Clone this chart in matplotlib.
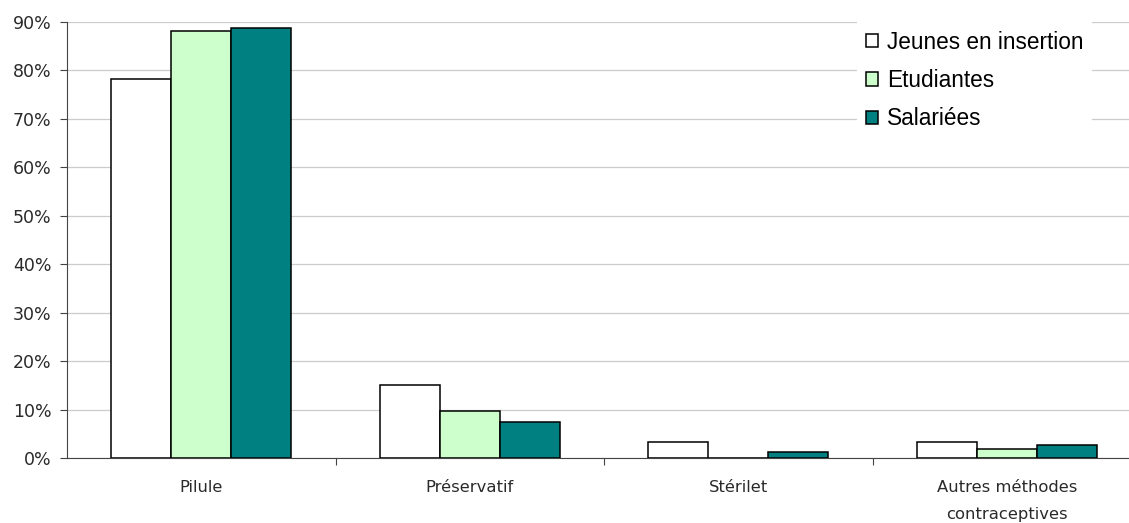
import matplotlib
matplotlib.use("Agg")
import matplotlib.pyplot as plt
import matplotlib.ticker as ticker
import numpy as np

categories = ["Pilule", "Préservatif", "Stérilet", "Autres méthodes\ncontraceptives"]
series_names = ["Jeunes en insertion", "Etudiantes", "Salariées"]
jeunes = [78.2, 15.0, 3.2, 3.4]
etudiantes = [88.2, 9.7, 0.0, 1.9]
salariees = [88.8, 7.4, 1.2, 2.7]
colors = ["#ffffff", "#ccffcc", "#008080"]

fig = plt.figure(figsize=(11.29, 5.23), dpi=100)
# axis runs a bit past the right edge of the figure
ax = fig.add_axes([67 / 1129, 65 / 523, (1141 - 67) / 1129, 436 / 523])

x = np.arange(len(categories))
width = 0.224
for i, (vals, name, col) in enumerate(zip([jeunes, etudiantes, salariees], series_names, colors)):
    ax.bar(x + (i - 1) * width, np.array(vals) / 100, width, color=col,
           edgecolor="black", linewidth=1.1, label=name, zorder=3)

ax.set_xlim(-0.5, len(categories) - 0.5)
ax.set_ylim(0, 0.9)
ax.yaxis.set_major_locator(ticker.MultipleLocator(0.1))
ax.yaxis.set_major_formatter(ticker.FuncFormatter(lambda v, p: f"{v * 100:.0f}%"))
ax.grid(axis="y", color="#cccccc", linewidth=0.9, zorder=0)

# category ticks sit between groups, labels at group centres
ax.set_xticks(np.arange(0.5, len(categories) - 0.5, 1))
ax.set_xticklabels([])
ax.set_xticks(x, minor=True)
ax.set_xticklabels(categories, minor=True, fontsize=11.8, family="DejaVu Sans",
                   color="#2a2a2a", linespacing=1.95)
ax.tick_params(axis="x", which="major", length=5, color="#444444", direction="out")
ax.tick_params(axis="x", which="minor", length=0, pad=16)
ax.tick_params(axis="y", length=5, color="#444444", labelsize=12.5, pad=6)
for lbl in ax.get_yticklabels():
    lbl.set_family("DejaVu Sans")
    lbl.set_color("#2a2a2a")

for side in ["top", "right"]:
    ax.spines[side].set_visible(False)
ax.spines["left"].set_color("#444444")
ax.spines["bottom"].set_color("#444444")

leg = fig.legend(loc="upper left", bbox_to_anchor=(857 / 1129, 1 - 22 / 523),
                 prop={"family": "Liberation Sans", "size": 16.3},
                 frameon=True, fancybox=False, edgecolor="none", framealpha=1,
                 handlelength=0.53, handleheight=0.53, handletextpad=0.4,
                 labelspacing=0.68, borderpad=0.38, borderaxespad=0)

fig.savefig("out.png", dpi=100)
